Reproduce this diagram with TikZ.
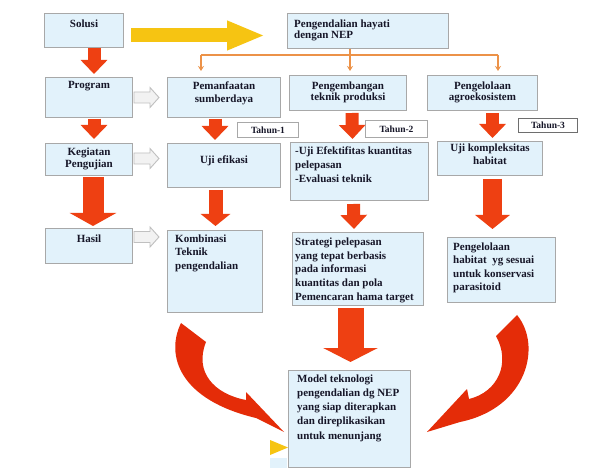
\documentclass[tikz,border=0pt]{standalone}
\usepackage{fontspec}
\setmainfont{Liberation Serif}
\usetikzlibrary{arrows.meta,calc}
\definecolor{boxfill}{RGB}{226,242,251}
\definecolor{boxline}{RGB}{168,168,168}
\definecolor{redarr}{RGB}{238,64,18}
\definecolor{curvred}{RGB}{228,44,8}
\definecolor{yel}{RGB}{246,196,18}
\definecolor{orn}{RGB}{236,146,72}
\definecolor{hollowline}{RGB}{192,192,192}
\definecolor{hollowfill}{RGB}{242,242,242}
\definecolor{txt}{RGB}{22,22,40}
\begin{document}
\begin{tikzpicture}[x=1pt,y=-1pt,
  box/.style={draw=boxline, fill=boxfill, line width=1pt, inner sep=0pt, anchor=north west},
  tagbox/.style={draw=boxline, fill=white, line width=1pt, inner sep=0pt, anchor=north west},
  lbl/.style={font=\bfseries\fontsize{11}{13.5}\selectfont, text=txt, inner sep=0pt, align=left, anchor=north west},
  clbl/.style={font=\bfseries\fontsize{11}{12.5}\selectfont, text=txt, inner sep=0pt, align=center, anchor=north},
  tlbl/.style={font=\bfseries\fontsize{9.5}{10}\selectfont, text=txt, inner sep=0pt},
  redsmall/.style={draw=redarr, line width=13pt, -{Triangle[width=26pt,length=14pt]}},
  orarrow/.style={draw=orn, line width=2.6pt, -{Stealth[length=5pt,width=6pt]}},
  hollowarr/.pic={\filldraw[draw=hollowline, fill=hollowfill, line width=0.9pt]
     (0,-5.5) -- (16,-5.5) -- (16,-10) -- (25,0) -- (16,10) -- (16,5.5) -- (0,5.5) -- cycle;}
]
\fill[white] (0,0) rectangle (598,468);
\useasboundingbox (0,0) rectangle (598,468);

% boxes
\node[box, minimum width=79pt,  minimum height=34pt] (solusi) at (44,13) {};
\node[box, minimum width=161pt, minimum height=35pt] (peng)   at (287,13) {};
\node[box, minimum width=87pt,  minimum height=40pt] (prog)   at (45,77) {};
\node[box, minimum width=113pt, minimum height=40pt] (pem)    at (167,77) {};
\node[box, minimum width=117pt, minimum height=35pt] (pgb)    at (289,75) {};
\node[box, minimum width=110pt, minimum height=35pt] (agro)   at (427,75) {};
\node[box, minimum width=87pt,  minimum height=32pt] (keg)    at (45,143) {};
\node[box, minimum width=113pt, minimum height=44pt] (uji1)   at (167,143) {};
\node[box, minimum width=138pt, minimum height=58pt] (uji2)   at (290,142) {};
\node[box, minimum width=105pt, minimum height=34pt] (uji3)   at (437,141) {};
\node[box, minimum width=87pt,  minimum height=35pt] (hasil)  at (45,228) {};
\node[box, minimum width=95pt,  minimum height=82pt] (komb)   at (167,230) {};
\node[box, minimum width=131pt, minimum height=73pt] (strat)  at (292,232) {};
\node[box, minimum width=108pt, minimum height=65pt] (pgh)    at (447,237) {};
\node[box, minimum width=122pt, minimum height=97pt] (model)  at (288,370) {};
\node[tagbox, minimum width=61pt, minimum height=15pt] (th1) at (237,122) {};
\node[tagbox, minimum width=62pt, minimum height=17pt] (th2) at (365,120) {};
\node[tagbox, draw={rgb,255:red,110;green,110;blue,110}, minimum width=59pt, minimum height=14pt] (th3) at (518,118) {};

% texts
\node[clbl] (t-solusi) at ($(solusi.north)+(0,6.5)$) {Solusi};
\node[lbl, font=\bfseries\fontsize{11}{11.5}\selectfont] (t-peng) at (294,19.5) {Pengendalian hayati\\dengan NEP};
\node[clbl] (t-prog) at ($(prog.north)+(0,4.5)$) {Program};
\node[clbl, font=\bfseries\fontsize{11}{13}\selectfont] (t-pem) at ($(pem.north)+(0,4.5)$) {Pemanfaatan\\sumberdaya};
\node[clbl, font=\bfseries\fontsize{11}{11.5}\selectfont] (t-pgb) at ($(pgb.north)+(0,6.5)$) {Pengembangan\\teknik produksi};
\node[clbl, font=\bfseries\fontsize{11}{11.5}\selectfont] (t-agro) at ($(agro.north)+(0,6.5)$) {Pengelolaan\\agroekosistem};
\node[clbl] (t-keg) at ($(keg.north)+(0,4.5)$) {Kegiatan\\Pengujian};
\node[clbl] (t-uji1) at ($(uji1.north)+(0,12.5)$) {Uji efikasi};
\node[lbl, font=\bfseries\fontsize{11}{14}\selectfont] (t-uji2) at (295,146.5) {-Uji Efektifitas kuantitas\\pelepasan\\-Evaluasi teknik};
\node[clbl, font=\bfseries\fontsize{11}{13}\selectfont] (t-uji3) at ($(uji3.north)+(0,2.5)$) {Uji kompleksitas\\habitat};
\node[clbl] (t-hasil) at ($(hasil.north)+(0,6.5)$) {Hasil};
\node[lbl] (t-komb) at (175,234.5) {Kombinasi\\Teknik\\pengendalian};
\node[lbl, font=\bfseries\fontsize{11}{13.75}\selectfont] (t-strat) at (295,237.5) {Strategi pelepasan\\yang tepat berbasis\\pada informasi\\kuantitas dan pola\\Pemencaran hama target};
\node[lbl, font=\bfseries\fontsize{11}{13.4}\selectfont] (t-pgh) at (453,242.5) {Pengelolaan\\habitat\ \ yg sesuai\\untuk konservasi\\parasitoid};
\node[lbl, font=\bfseries\fontsize{11}{14.2}\selectfont] (t-model) at (297,374.5) {Model teknologi\\pengendalian dg NEP\\yang siap diterapkan\\dan direplikasikan\\untuk menunjang};
\node[tlbl] (t-th1) at (th1.center) {Tahun-1};
\node[tlbl] (t-th2) at (th2.center) {Tahun-2};
\node[tlbl] (t-th3) at (th3.center) {Tahun-3};

% yellow arrow
\draw[draw=yel, line width=14pt, -{Triangle[width=27pt,length=38pt]}]
  ($(solusi.east)+(7,5)$) -- ($(peng.west)+(-22,4.5)$);

% orange bracket
\coordinate (b1) at (201,55);
\coordinate (b2) at (350,55);
\coordinate (b3) at (498,55);
\draw[draw=orn, line width=2.6pt] (b1) -- (b3);
\draw[orarrow] (b2 |- peng.south) -- ($(b2 |- pgb.north)+(0,-4)$);
\draw[orarrow] (b1) -- ($(b1 |- pem.north)+(0,-6)$);
\draw[orarrow] (b3) -- ($(b3 |- agro.north)+(0,-4)$);

% red straight arrows
\draw[redsmall] ($(solusi.south)+(10,0)$) -- ($(prog.north)+(5,-3)$);
\draw[redsmall] ($(prog.south)+(5,1)$) -- ($(keg.north)+(5,-4)$);
\draw[draw=redarr, line width=21pt, -{Triangle[width=46pt,length=13pt]}]
   ($(keg.south)+(4,1)$) -- ($(hasil.north)+(4,-2)$);
\draw[redsmall] ($(pem.south)+(-9,1)$) -- ($(uji1.north)+(-9,-3)$);
\draw[draw=redarr, line width=14pt, -{Triangle[width=29pt,length=12pt]}]
   ($(uji1.south)+(-8.5,2)$) -- ($(komb.north)+(0.5,-4)$);
\draw[redsmall] ($(pgb.south)+(4,2)$) -- ($(uji2.north)+(-7,-3)$);
\draw[redsmall] ($(uji2.south)+(-6,3)$) -- ($(strat.north)+(-4,-3)$);
\draw[redsmall] ($(agro.south)+(10,2)$) -- ($(uji3.north)+(2.5,-3)$);
\draw[draw=redarr, line width=19pt, -{Triangle[width=34pt,length=14pt]}]
   ($(uji3.south)+(2.5,3)$) -- ($(pgh.north)+(-9,-8)$);
\draw[draw=redarr, line width=26pt, -{Triangle[width=54pt,length=14pt]}]
   ($(strat.south)+(-7.5,2)$) -- ($(model.north)+(1,-8)$);

% hollow arrows
\pic at ($(prog.east)+(1,0)$) {hollowarr};
\pic at ($(keg.east)+(1,-1)$) {hollowarr};
\pic at ($(hasil.north east)+(1,9)$) {hollowarr};

% curved arrows
\fill[curvred] (181,323) .. controls (165,356) and (180,400) .. (256,418)
   -- (284,432) -- (246,392) -- (246,400)
   .. controls (214,394) and (194,372) .. (206,342) -- cycle;
\fill[curvred] (496,336) -- (517,315) .. controls (542,345) and (528,408) .. (460,422)
   -- (427,432) -- (467,389) -- (469,399)
   .. controls (498,392) and (511,363) .. (496,336) -- cycle;

% small marks beside model
\fill[yel] (270,440) -- (288,447.5) -- (270,455) -- cycle;
\fill[boxfill] (270,458) rectangle (287,468);
\end{tikzpicture}
\end{document}
